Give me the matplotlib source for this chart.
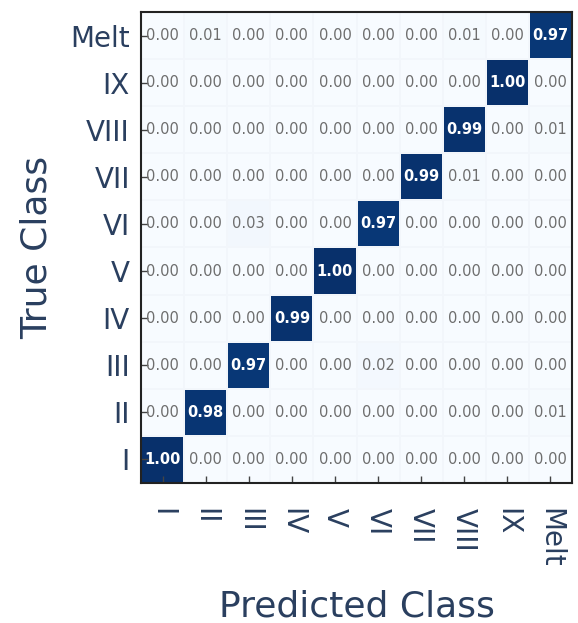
import numpy as np
import matplotlib
matplotlib.use("Agg")
import matplotlib.pyplot as plt

classes = ["I", "II", "III", "IV", "V", "VI", "VII", "VIII", "IX", "Melt"]
# rows: true class (I..Melt), columns: predicted class (I..Melt)
row_I    = [1.00, 0.00, 0.00, 0.00, 0.00, 0.00, 0.00, 0.00, 0.00, 0.00]
row_II   = [0.00, 0.98, 0.00, 0.00, 0.00, 0.00, 0.00, 0.00, 0.00, 0.01]
row_III  = [0.00, 0.00, 0.97, 0.00, 0.00, 0.02, 0.00, 0.00, 0.00, 0.00]
row_IV   = [0.00, 0.00, 0.00, 0.99, 0.00, 0.00, 0.00, 0.00, 0.00, 0.00]
row_V    = [0.00, 0.00, 0.00, 0.00, 1.00, 0.00, 0.00, 0.00, 0.00, 0.00]
row_VI   = [0.00, 0.00, 0.03, 0.00, 0.00, 0.97, 0.00, 0.00, 0.00, 0.00]
row_VII  = [0.00, 0.00, 0.00, 0.00, 0.00, 0.00, 0.99, 0.01, 0.00, 0.00]
row_VIII = [0.00, 0.00, 0.00, 0.00, 0.00, 0.00, 0.00, 0.99, 0.00, 0.01]
row_IX   = [0.00, 0.00, 0.00, 0.00, 0.00, 0.00, 0.00, 0.00, 1.00, 0.00]
row_Melt = [0.00, 0.01, 0.00, 0.00, 0.00, 0.00, 0.00, 0.01, 0.00, 0.97]

M = np.array([row_I, row_II, row_III, row_IV, row_V, row_VI,
              row_VII, row_VIII, row_IX, row_Melt])

text_color = "#2a3f5f"
fig = plt.figure(figsize=(5.78, 6.23), dpi=100)
ax = fig.add_axes([141/578, 1-483/623, (572-141)/578, (483-12)/623])

n = len(classes)
ax.pcolormesh(np.arange(n+1)-0.5, np.arange(n+1)-0.5, M, cmap="Blues",
              vmin=0, vmax=1, edgecolor="#f2f6fb", linewidth=0.3)
ax.set_xlim(-0.5, n-0.5)
ax.set_ylim(-0.5, n-0.5)

for i in range(n):
    for j in range(n):
        v = M[i, j]
        if v > 0.5:
            ax.text(j, i, f"{v:.2f}", ha="center", va="center", color="white",
                    fontsize=10.5, fontweight="bold")
        else:
            ax.text(j, i, f"{v:.2f}", ha="center", va="center", color="#6e6e6e",
                    fontsize=10.5)

ax.set_xticks(range(n))
ax.set_xticklabels(classes, rotation=-90, fontsize=20, color=text_color)
ax.set_yticks(range(n))
ax.set_yticklabels(classes, fontsize=20, color=text_color)
ax.tick_params(axis="both", direction="in", length=5, width=1, color="#444444", pad=8)
ax.tick_params(axis="x", pad=18)

for s in ax.spines.values():
    s.set_linewidth(1.5)
    s.set_color("#222222")

ax.set_xlabel("Predicted Class", fontsize=26, color=text_color, labelpad=16)
ax.set_ylabel("True Class", fontsize=26, color=text_color, labelpad=12)

fig.savefig("out.png", dpi=100)
